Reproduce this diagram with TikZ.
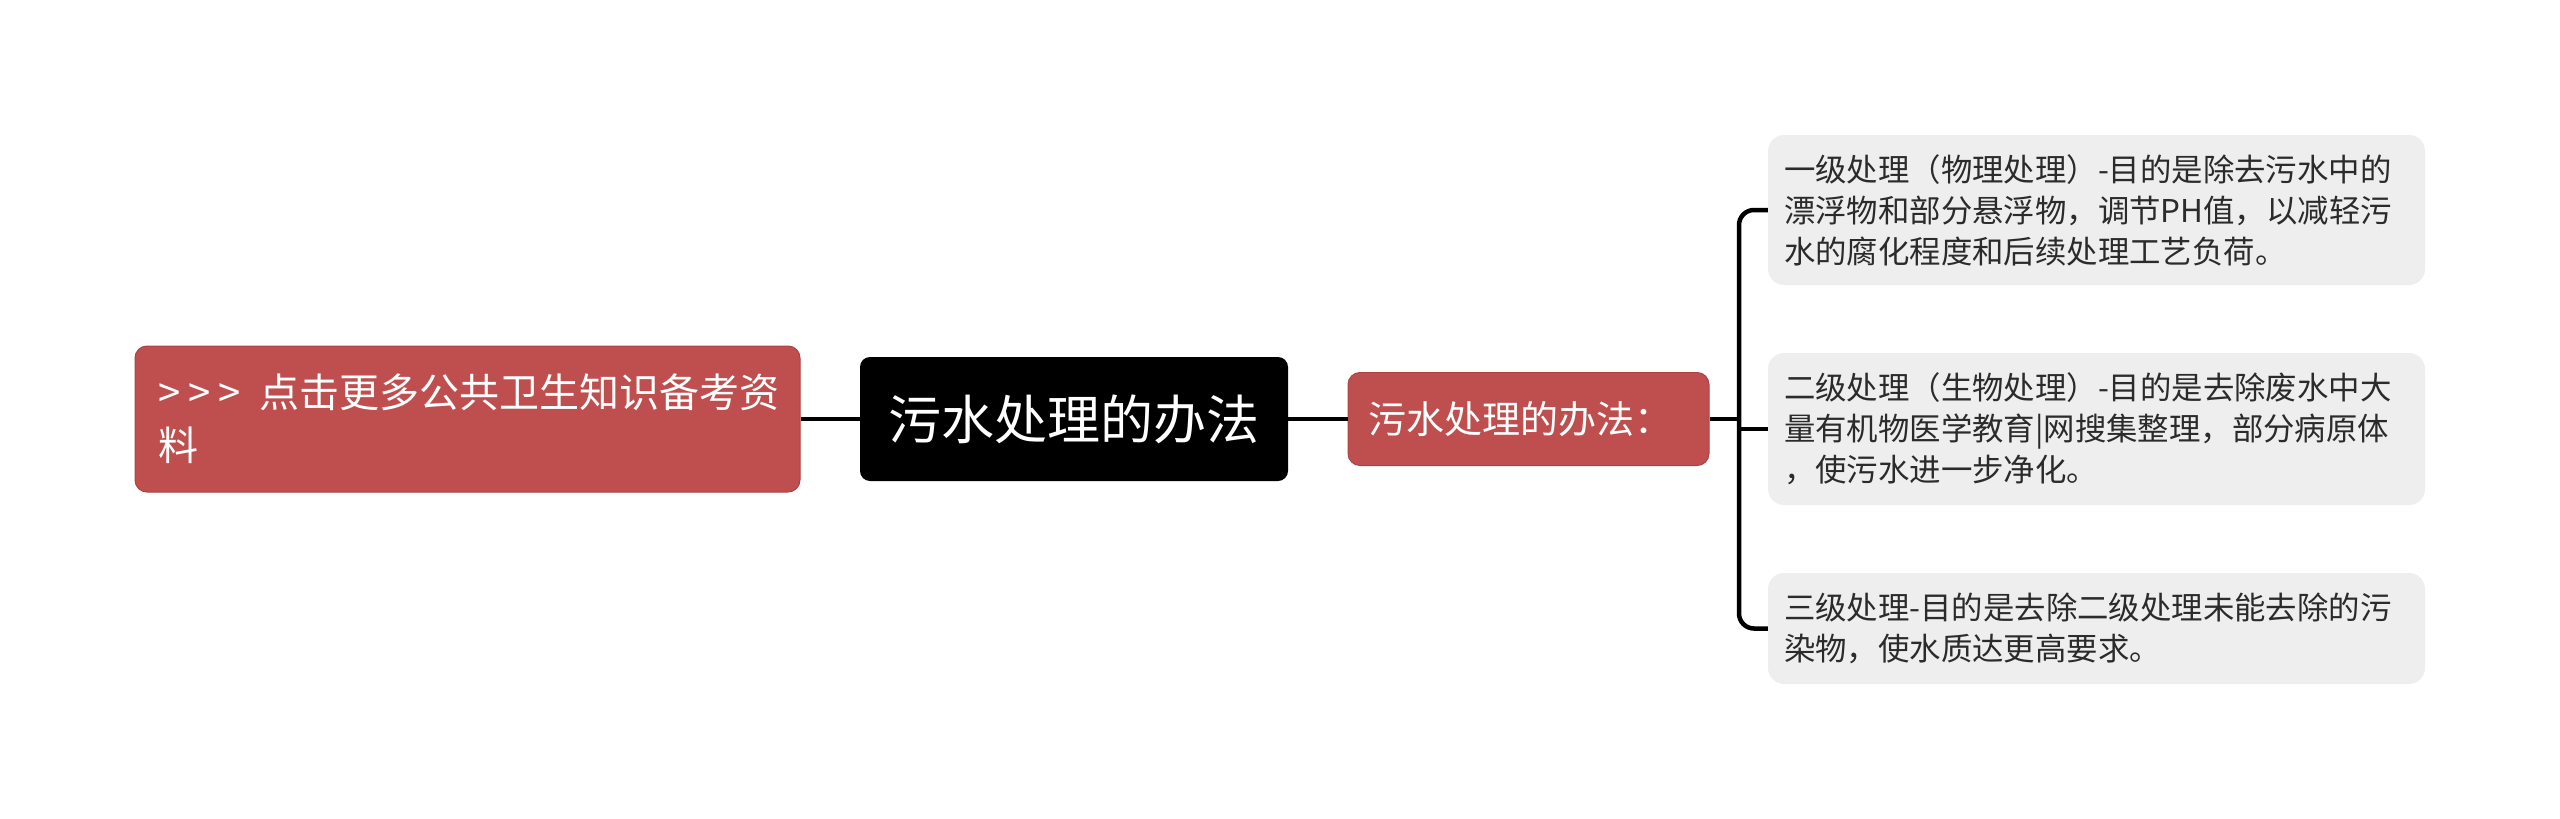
\documentclass[tikz,border=0pt]{standalone}
\usepackage{fontspec}
\setmainfont{Noto Sans CJK SC}
\definecolor{redbox}{HTML}{BF4F4F}
\definecolor{redline}{HTML}{A94444}
\definecolor{graybox}{HTML}{EEEEEE}
\definecolor{graytext}{HTML}{2B2B2B}
\begin{document}
\begin{tikzpicture}[x=1pt,y=-1pt,
  rednode/.style={fill=redbox, draw=redline, line width=1pt, rounded corners=12pt, text=white, align=left, inner ysep=0pt},
  graynode/.style={fill=graybox, rounded corners=16pt, text=graytext, align=left, text width=625pt, inner xsep=16pt, inner ysep=0pt, font=\fontsize{31.4}{41}\selectfont},
  rootnode/.style={fill=black, rounded corners=10pt, text=white, inner sep=0pt},
  conn/.style={line width=4.5pt, black}]
\useasboundingbox (0,0) rectangle (2560,819);

\node[rednode, minimum width=665pt, minimum height=146pt, text width=619pt, inner xsep=23pt, font=\fontsize{40}{53}\selectfont] (more) at (467.5,419) {>\kern8pt>\kern8pt>\kern6pt\ 点击更多公共卫生知识备考资\\料};

\node[rootnode, minimum width=428pt, minimum height=124pt, font=\fontsize{53}{60}\selectfont] (root) at (1074,419) {污水处理的办法};

\node[rednode, minimum width=361pt, minimum height=93pt, text width=321pt, inner xsep=20pt, font=\fontsize{38}{44}\selectfont] (mid) at (1528.5,419) {污水处理的办法：};

\node[graynode, minimum height=150pt] (b1) at (2096.5,210) {一级处理（物理处理）-目的是除去污水中的\\漂浮物和部分悬浮物，调节PH值，以减轻污\\水的腐化程度和后续处理工艺负荷。};
\node[graynode, minimum height=152pt] (b2) at (2096.5,429) {二级处理（生物处理）-目的是去除废水中大\\量有机物医学教育|网搜集整理，部分病原体\\，使污水进一步净化。};
\node[graynode, minimum height=111pt] (b3) at (2096.5,628.5) {三级处理-目的是去除二级处理未能去除的污\\染物，使水质达更高要求。};

\coordinate (j) at (1739,419);

\draw[conn] (more.east) -- (root.west);
\draw[conn] (root.east) -- (mid.west);
\draw[conn] (mid.east) -- (j);
\draw[conn, rounded corners=15pt] (b1.west) -- (j |- b1.west) -- (j |- b3.west) -- (b3.west);
\draw[conn] (j |- b2.west) -- (b2.west);
\end{tikzpicture}
\end{document}
